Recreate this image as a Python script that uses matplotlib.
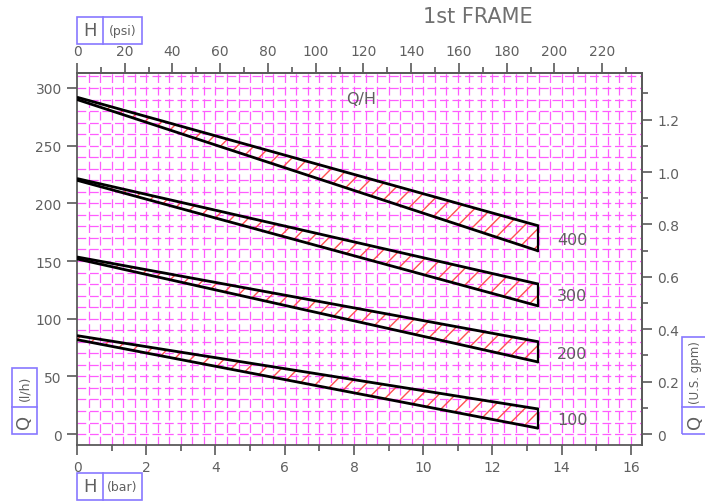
import matplotlib
matplotlib.use("Agg")
import matplotlib.pyplot as plt
from matplotlib.patches import Rectangle
from matplotlib.lines import Line2D
from matplotlib.ticker import MultipleLocator
import numpy as np

# ---------------- data ----------------
H_bar = [0.0, 13.33]                       # pressure range of each band (bar)
band_labels = ["400", "300", "200", "100"]
q_upper_start = [292, 221.5, 153.5, 85.3]  # l/h at H = 0 (upper line)
q_upper_end = [180.5, 130, 80, 21.7]       # l/h at H = 13.33 bar
q_lower_start = [290, 220, 151.8, 81.8]
q_lower_end = [158.7, 111, 62.4, 5]
label_q = [169, 120, 70, 13]               # l/h where band labels sit
title = "1st FRAME"

# ---------------- figure ----------------
W, Hpx = 705, 502
plt.rcParams['font.family'] = ['DejaVu Sans']
plt.rcParams['hatch.linewidth'] = 1.0
fig = plt.figure(figsize=(W / 100, Hpx / 100), dpi=100)

def fx(px):
    return px / W

def fy(py):
    return 1 - py / Hpx

ax_l, ax_r, ax_t, ax_b = 77, 642, 74, 446
ax = fig.add_axes([fx(ax_l), fy(ax_b), fx(ax_r) - fx(ax_l), fy(ax_t) - fy(ax_b)])

txt_col = '#606060'
spine_col = '#5a5a5a'
grid_col = '#ff5cff'
box_col = '#8878ff'

# grid (square magenta dashed grid)
for gx in np.arange(1 / 3, 16.32, 1 / 3):
    ax.axvline(gx, color=grid_col, lw=0.9, ls=(0, (7, 3)), zorder=1)
for gy in np.arange(0, 313, 10):
    ax.axhline(gy, color=grid_col, lw=0.9, ls=(0, (7, 3)), zorder=1)

# bands
for i in range(len(band_labels)):
    up = [q_upper_start[i], q_upper_end[i]]
    lo = [q_lower_start[i], q_lower_end[i]]
    ax.fill_between(H_bar, lo, up, facecolor='none', edgecolor='#ff5050',
                    hatch='//', linewidth=0, zorder=2)
    ax.plot(H_bar, up, color='black', lw=2.0, zorder=3, solid_capstyle='butt')
    ax.plot(H_bar, lo, color='black', lw=2.0, zorder=3, solid_capstyle='butt')
    ax.plot([H_bar[1], H_bar[1]], [lo[1], up[1]], color='black', lw=1.6, zorder=3)

# band labels
for i, lab in enumerate(band_labels):
    ax.text(14.3, label_q[i], lab, color=txt_col, fontsize=11.5,
            ha='center', va='center', zorder=4)
ax.text(8.2, 290.5, "Q/H", color=txt_col, fontsize=11.5,
        ha='center', va='center', zorder=4)

# spines
for s in ax.spines.values():
    s.set_color(spine_col)
    s.set_linewidth(1.3)

# bottom axis (bar) and left axis (l/h)
ax.xaxis.set_major_locator(MultipleLocator(2))
ax.xaxis.set_minor_locator(MultipleLocator(1))
ax.yaxis.set_major_locator(MultipleLocator(50))
ax.tick_params(axis='both', which='major', length=7, width=1.2, color=spine_col,
               labelcolor=txt_col, labelsize=10, pad=4)
ax.tick_params(axis='both', which='minor', length=4, width=1.2, color=spine_col)
ax.tick_params(axis='y', which='minor', left=False)
ax.set_ylim(-9.5, 313.0)
ax.set_xlim(0, 16.32)

# top axis (psi)
k_psi = 14.5038
top = ax.secondary_xaxis('top', functions=(lambda b: b * k_psi, lambda p: p / k_psi))
top.set_xticks(np.arange(0, 221, 20))
top.xaxis.set_minor_locator(MultipleLocator(10))
top.tick_params(which='major', length=7, width=1.2, color=spine_col, labelcolor=txt_col,
                labelsize=10, pad=4)
top.tick_params(which='minor', length=4, width=1.2, color=spine_col)
top.spines['top'].set_color(spine_col)
top.spines['top'].set_linewidth(1.3)

# right axis (U.S. gpm)
k_gpm = 227.125
right = ax.secondary_yaxis('right', functions=(lambda q: q / k_gpm, lambda g: g * k_gpm))
right.set_yticks(np.arange(0, 1.21, 0.2))
right.set_yticklabels(['0', '0.2', '0.4', '0.6', '0.8', '1.0', '1.2'])
right.yaxis.set_minor_locator(MultipleLocator(0.1))
right.tick_params(which='major', length=7, width=1.2, color=spine_col, labelcolor=txt_col,
                  labelsize=10, pad=4)
right.tick_params(which='minor', length=4, width=1.2, color=spine_col)
right.spines['right'].set_color(spine_col)
right.spines['right'].set_linewidth(1.3)

# title
fig.text(fx(478), fy(17), title, color='#707070', fontsize=15, ha='center', va='center')

# unit boxes
def box(x0, y0, x1, y1):
    fig.add_artist(Rectangle((fx(x0), fy(y1)), fx(x1) - fx(x0), fy(y0) - fy(y1),
                             transform=fig.transFigure, fill=False, edgecolor=box_col,
                             lw=1.2, clip_on=False))

def vline(x, y0, y1):
    fig.add_artist(Line2D([fx(x), fx(x)], [fy(y0), fy(y1)], transform=fig.transFigure,
                          color=box_col, lw=1.2))

def hline(y, x0, x1):
    fig.add_artist(Line2D([fx(x0), fx(x1)], [fy(y), fy(y)], transform=fig.transFigure,
                          color=box_col, lw=1.2))

# top-left H (psi)
box(77, 18, 142, 45)
vline(103, 18, 45)
fig.text(fx(90), fy(31.5), "H", color=txt_col, fontsize=13, ha='center', va='center')
fig.text(fx(122.5), fy(32), "(psi)", color=txt_col, fontsize=9, ha='center', va='center')

# bottom H (bar)
box(77, 474, 142, 501)
vline(103, 474, 501)
fig.text(fx(90), fy(487.5), "H", color=txt_col, fontsize=13, ha='center', va='center')
fig.text(fx(122.5), fy(488), "(bar)", color=txt_col, fontsize=9, ha='center', va='center')

# left Q (l/h)
box(12, 369, 37, 435)
hline(408, 12, 37)
fig.text(fx(24.5), fy(421.5), "Q", color=txt_col, fontsize=13, ha='center', va='center',
         rotation=90)
fig.text(fx(25), fy(388.5), "(l/h)", color=txt_col, fontsize=9, ha='center', va='center',
         rotation=90)

# right Q (U.S. gpm)
box(682, 338, 710, 435)
hline(408, 682, 710)
fig.text(fx(695), fy(421.5), "Q", color=txt_col, fontsize=13, ha='center', va='center',
         rotation=90)
fig.text(fx(695.5), fy(373), "(U.S. gpm)", color=txt_col, fontsize=8.5, ha='center',
         va='center', rotation=90)

fig.savefig("out.png", dpi=100)
